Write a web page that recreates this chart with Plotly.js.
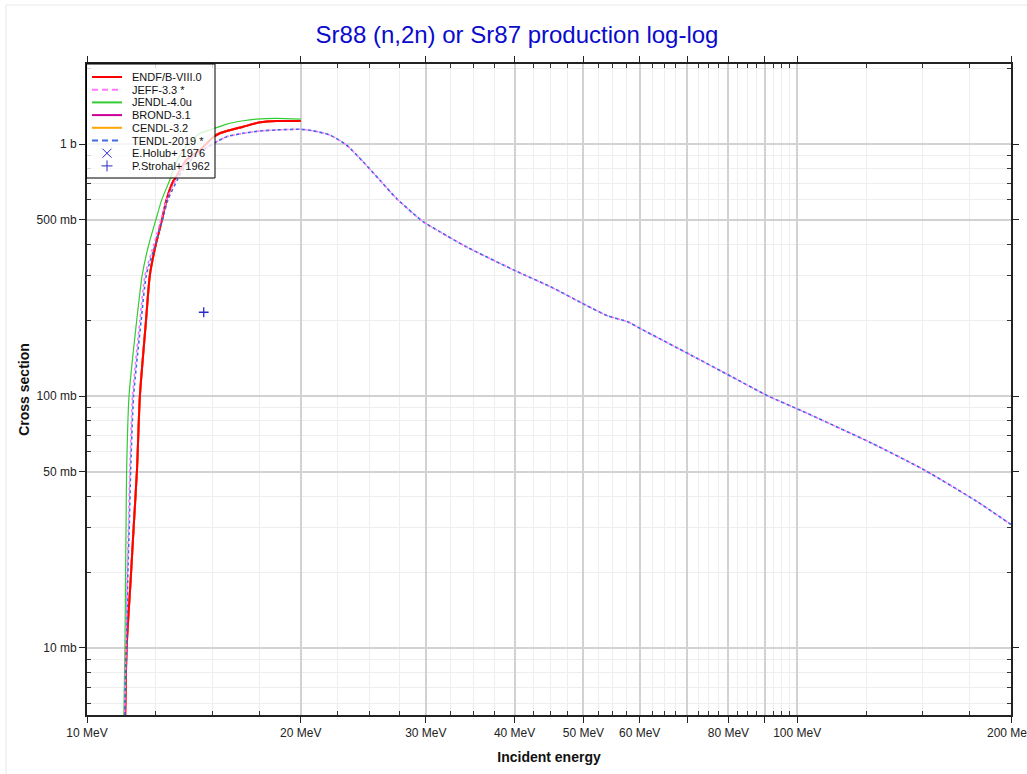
<!DOCTYPE html>
<html>
<head>
<meta charset="utf-8">
<script src="https://cdn.plot.ly/plotly-3.0.1.min.js"></script>
<style>
html,body{margin:0;padding:0;background:#fff;overflow:hidden}
#chart{width:1027px;height:774px}
</style>
</head>
<body>
<div id="chart"></div>
<script>
// ---- data (energy in MeV, cross section in mb) ----
const endfE  = [11.30, 11.37, 11.52, 11.64, 11.76, 11.87, 12.11, 12.26, 12.50, 12.75, 12.94, 13.23, 13.36, 13.80, 14.42, 15.05, 15.38, 16.59, 17.52, 18.48, 20.0];
const endfXS = [4, 10, 18.6, 31, 51, 100, 200, 302, 400, 500, 600, 713, 742, 864, 946, 1063, 1103, 1171, 1219, 1234, 1234];

const brondE  = endfE.slice();
const brondXS = endfXS.slice();
const cendlE  = endfE.slice();
const cendlXS = endfXS.slice();

const jendlE  = [11.25, 11.31, 11.33, 11.35, 11.37, 11.46, 11.75, 11.96, 12.22, 12.50, 12.74, 13.08, 13.30, 13.73, 14.42, 14.89, 15.73, 16.59, 17.33, 18.48, 20.0];
const jendlXS = [4, 10, 18.6, 31, 50, 100, 200, 302, 400, 500, 600, 720, 825, 964, 1103, 1137, 1200, 1237, 1256, 1265, 1256];

const jeffE  = [11.27, 11.35, 11.39, 11.44, 11.49, 11.59, 11.87, 12.07, 12.42, 12.71, 12.94, 13.33, 13.73, 14.42, 15.22, 15.73, 16.59, 17.52, 18.48, 19.94, 20.79, 21.97, 23.19, 24.47, 25.83, 27.26, 28.77, 29.72, 31.38, 34.2, 40.1, 45.1, 50.3, 54.1, 57.7, 60.4, 70.8, 80.8, 91.0, 101.3, 127.3, 151.1, 179.2, 200];
const jeffXS = [4, 10.1, 18.6, 31, 50.8, 100, 200, 302, 400, 500, 600, 720, 825, 929, 1021, 1069, 1103, 1126, 1137, 1144, 1129, 1086, 991, 851, 720, 609, 531, 492, 449, 391, 314, 270, 230, 208, 197, 184, 145.5, 119.4, 100, 87.5, 65, 50.8, 38.1, 30.9];

const tendlE  = [11.28, 11.37, 11.41, 11.47, 11.52, 11.63, 11.92, 12.12, 12.48, 12.77, 13.00, 13.40, 13.78, 14.45, 15.22, 15.73, 16.59, 17.52, 18.48, 19.94, 20.79, 21.97, 23.19, 24.47, 25.83, 27.26, 28.77, 29.72, 31.38, 34.2, 40.1, 45.1, 50.3, 54.1, 57.7, 60.4, 70.8, 80.8, 91.0, 101.3, 127.3, 151.1, 179.2, 200];
const tendlXS = [4, 10.1, 18.6, 31, 50.8, 100, 200, 302, 400, 500, 600, 720, 825, 929, 1021, 1069, 1103, 1126, 1137, 1144, 1129, 1086, 991, 851, 720, 609, 531, 492, 449, 391, 314, 270, 230, 208, 197, 184, 145.5, 119.4, 100, 87.5, 65, 50.8, 38.1, 30.9];

const holubE  = [null];
const holubXS = [null];
const strohalE  = [14.6];
const strohalXS = [215];

const xTickVals = [10, 20, 30, 40, 50, 60, 70, 80, 90, 100, 200];
const xTickText = ['10 MeV', '20 MeV', '30 MeV', '40 MeV', '50 MeV', '60 MeV', '', '80 MeV', '', '100 MeV', '200 MeV'];
const xMinorVals = [12.5, 15, 17.5, 22.5, 25, 27.5, 32.5, 35, 37.5, 42.5, 45, 47.5, 52.5, 55, 57.5, 62.5, 65, 67.5, 72.5, 75, 77.5, 82.5, 85, 87.5, 92.5, 95, 97.5, 125, 150, 175];
const yTickVals = [10, 50, 100, 500, 1000];
const yTickText = ['10 mb', '50 mb', '100 mb', '500 mb', '1 b'];
const yMinorVals = [6, 7, 8, 9, 20, 30, 40, 60, 70, 80, 90, 200, 300, 400, 600, 700, 800, 900, 2000];

const seriesNames = ['ENDF/B-VIII.0', 'JEFF-3.3 *', 'JENDL-4.0u', 'BROND-3.1', 'CENDL-3.2', 'TENDL-2019 *', 'E.Holub+ 1976', 'P.Strohal+ 1962'];

// ---- styling ----
const C = {
  endf: '#ff0000', jeff: '#ff77ff', jendl: '#33cc33', brond: '#cc0099',
  cendl: '#ffa500', tendl: '#4169e1', exp: '#2a2acc'
};
const FONT = 'Liberation Sans, Arial, sans-serif';
const SM = 0.6;

const traces = [
  {x: brondE, y: brondXS, name: seriesNames[3], mode: 'lines', line: {color: C.brond, width: 2, shape: 'spline', smoothing: SM}},
  {x: cendlE, y: cendlXS, name: seriesNames[4], mode: 'lines', line: {color: C.cendl, width: 2, shape: 'spline', smoothing: SM}},
  {x: endfE, y: endfXS, name: seriesNames[0], mode: 'lines', line: {color: C.endf, width: 2, shape: 'spline', smoothing: SM}},
  {x: jendlE, y: jendlXS, name: seriesNames[2], mode: 'lines', line: {color: C.jendl, width: 1.2, shape: 'spline', smoothing: SM}},
  {x: jeffE, y: jeffXS, name: seriesNames[1], mode: 'lines', line: {color: C.jeff, width: 1.6, dash: '3px,3px', shape: 'spline', smoothing: SM}},
  {x: tendlE, y: tendlXS, name: seriesNames[5], mode: 'lines', line: {color: C.tendl, width: 1.6, dash: '0px,3px,3px,0px', shape: 'spline', smoothing: SM}},
  {x: holubE, y: holubXS, name: seriesNames[6], mode: 'markers', marker: {symbol: 'x-thin', size: 8, line: {color: C.exp, width: 1}}},
  {x: strohalE, y: strohalXS, name: seriesNames[7], mode: 'markers', marker: {symbol: 'cross-thin', size: 7, line: {color: C.exp, width: 1.3}}}
].map(t => Object.assign(t, {showlegend: false, hoverinfo: 'x+y+name'}));

// plot area in pixels
const P = {l: 87, t: 64, w: 924, h: 651};
const px = x => (x - P.l) / P.w;
const py = y => (P.t + P.h - y) / P.h;

// custom compact legend (box, samples, labels)
const legRows = [77, 89.7, 102.4, 115.1, 127.8, 140.5, 153.2, 165.9];
const legStyle = [
  {color: C.endf, dash: 'solid'}, {color: C.jeff, dash: '6px,4px'}, {color: C.jendl, dash: 'solid'},
  {color: C.brond, dash: 'solid'}, {color: C.cendl, dash: 'solid'}, {color: C.tendl, dash: '6px,4px'},
  {marker: 'x'}, {marker: '+'}
];
const shapes = [
  // outer light frame
  {type: 'rect', xref: 'paper', yref: 'paper', x0: px(6), x1: px(1060), y0: py(800), y1: py(5),
   line: {color: '#e8e8e8', width: 1}, fillcolor: 'rgba(0,0,0,0)', layer: 'below'},
  // legend box
  {type: 'rect', xref: 'paper', yref: 'paper', x0: px(86.5), x1: px(215), y0: py(178), y1: py(64),
   line: {color: '#000', width: 1}, fillcolor: 'rgba(255,255,255,0.78)', layer: 'above'}
];
const annotations = [];
legRows.forEach((ry, i) => {
  const s = legStyle[i];
  if (s.marker) {
    const cx = 107, cy = ry, r = 4.5;
    const path = s.marker === 'x'
      ? `M${px(cx - r)},${py(cy - r)} L${px(cx + r)},${py(cy + r)} M${px(cx - r)},${py(cy + r)} L${px(cx + r)},${py(cy - r)}`
      : `M${px(cx - r - 1)},${py(cy)} L${px(cx + r + 1)},${py(cy)} M${px(cx)},${py(cy - r - 1)} L${px(cx)},${py(cy + r + 1)}`;
    shapes.push({type: 'path', xref: 'paper', yref: 'paper', path: path, line: {color: C.exp, width: 1}, layer: 'above'});
  } else {
    shapes.push({type: 'line', xref: 'paper', yref: 'paper', x0: px(92), x1: px(122), y0: py(ry), y1: py(ry),
      line: {color: s.color, width: 2, dash: s.dash}, layer: 'above'});
  }
  annotations.push({xref: 'paper', yref: 'paper', x: px(130.5), y: py(ry), xanchor: 'left', yanchor: 'middle',
    text: seriesNames[i], showarrow: false, font: {family: FONT, size: 11, color: '#111'}, borderpad: 0});
});

const axisCommon = {
  type: 'log',
  showline: true, linecolor: '#222', linewidth: 2, mirror: 'allticks',
  ticks: 'outside', ticklen: 6, tickcolor: '#222', tickwidth: 1,
  tickmode: 'array',
  showgrid: true, gridcolor: '#d2d2d2', gridwidth: 1.5,
  zeroline: false,
  tickfont: {family: FONT, size: 12, color: '#222'},
  ticklabeloverflow: 'allow',
  automargin: false
};

const layout = {
  width: 1027, height: 774,
  margin: {l: P.l, r: 1027 - P.l - P.w, t: P.t, b: 774 - P.t - P.h},
  paper_bgcolor: '#fff', plot_bgcolor: '#fff',
  showlegend: false,
  title: {text: 'Sr88 (n,2n) or Sr87 production log-log', font: {family: FONT, size: 24, color: '#0a0acc'},
          xref: 'container', yref: 'container', x: 517 / 1027, xanchor: 'center', y: 1 - 35 / 774, yanchor: 'middle'},
  xaxis: Object.assign({}, axisCommon, {
    range: [1, Math.log10(200)],
    tickvals: xTickVals, ticktext: xTickText,
    minor: {tickmode: 'array', tickvals: xMinorVals, ticks: 'inside', ticklen: 4, tickcolor: '#333', showgrid: true, gridcolor: '#eeeeee', gridwidth: 1},
    title: {text: '<b>Incident energy</b>', font: {family: FONT, size: 14, color: '#111'}, standoff: 13}
  }),
  yaxis: Object.assign({}, axisCommon, {
    range: [0.7341, 3.3175],
    tickvals: yTickVals, ticktext: yTickText,
    minor: {tickmode: 'array', tickvals: yMinorVals, ticks: 'inside', ticklen: 4, tickcolor: '#333', showgrid: true, gridcolor: '#eeeeee', gridwidth: 1},
    title: {text: '<b>Cross section</b>', font: {family: FONT, size: 14, color: '#111'}, standoff: 4}
  }),
  shapes: shapes,
  annotations: annotations
};

Plotly.newPlot('chart', traces, layout, {displayModeBar: false});
</script>
</body>
</html>
